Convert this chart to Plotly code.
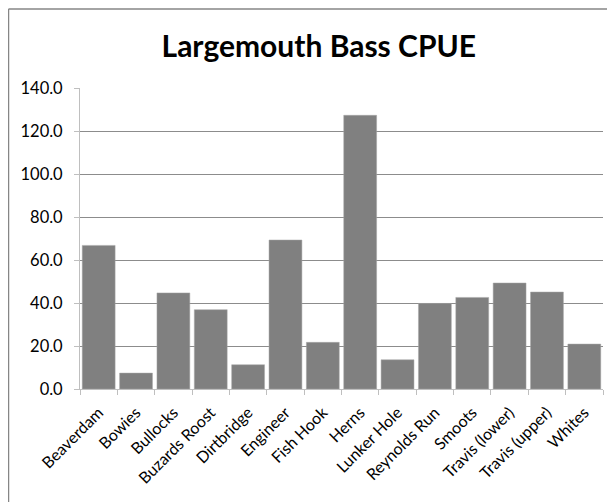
import plotly.graph_objects as go

sites = ["Beaverdam", "Bowies", "Bullocks", "Buzards Roost", "Dirtbridge", "Engineer",
         "Fish Hook", "Herns", "Lunker Hole", "Reynolds Run", "Smoots",
         "Travis (lower)", "Travis (upper)", "Whites"]
cpue = [66.8, 7.4, 44.7, 36.9, 11.3, 69.3, 21.7, 127.3, 13.6, 39.8, 42.6, 49.3, 45.1, 20.9]
y_ticks = [0, 20, 40, 60, 80, 100, 120, 140]

FONT = "Lato"

fig = go.Figure()
fig.add_trace(go.Bar(
    x=sites, y=cpue,
    marker=dict(color="#808080", line=dict(color="#a6a6a6", width=0.5)),
    showlegend=False,
))

# page body has an 8px margin; figure sized to fill the rest of the window
W, H = 607, 494
L, R, T, B = 72, 12, 80, 112.7
pw = W - L - R
ph = H - T - B

def px_x(px):
    return (px - L) / pw

def px_y(py):
    return (H - B - py) / ph

fig.update_layout(
    width=W, height=H,
    margin=dict(l=L, r=R, t=T, b=B, autoexpand=False),
    paper_bgcolor="white", plot_bgcolor="white",
    bargap=0.12,
    font=dict(family=FONT, size=16, color="#000000"),
    title=dict(text="<b>Largemouth Bass CPUE</b>", x=0.512, xanchor="center",
               y=1 - 38 / H, yanchor="middle",
               font=dict(family=FONT, size=30, color="#000000")),
    xaxis=dict(
        automargin=False,
        tickangle=-45, ticks="outside", ticklen=5, tickcolor="#bfbfbf",
        ticklabelstandoff=7,
        tickson="boundaries", showline=True, linecolor="#bfbfbf", linewidth=1,
        showgrid=False, tickfont=dict(family=FONT, size=16, color="#000000"),
    ),
    yaxis=dict(
        automargin=False,
        range=[0, 140], tickvals=y_ticks, tickformat=".1f",
        ticks="outside", ticklen=5, tickcolor="#bfbfbf",
        ticklabelstandoff=8,
        showline=True, linecolor="#bfbfbf", linewidth=1,
        showgrid=True, gridcolor="#8c8c8c", gridwidth=1,
        zeroline=False, tickfont=dict(family=FONT, size=16.5, color="#000000"),
    ),
    shapes=[
        dict(type="line", xref="paper", yref="paper",
             x0=px_x(0.5), x1=px_x(0.5), y0=px_y(1), y1=-1,
             line=dict(color="#868686", width=1.5)),
        dict(type="line", xref="paper", yref="paper",
             x0=px_x(0.5), x1=2, y0=px_y(1), y1=px_y(1),
             line=dict(color="#868686", width=1.5)),
    ],
)

fig.write_html("out.html")
